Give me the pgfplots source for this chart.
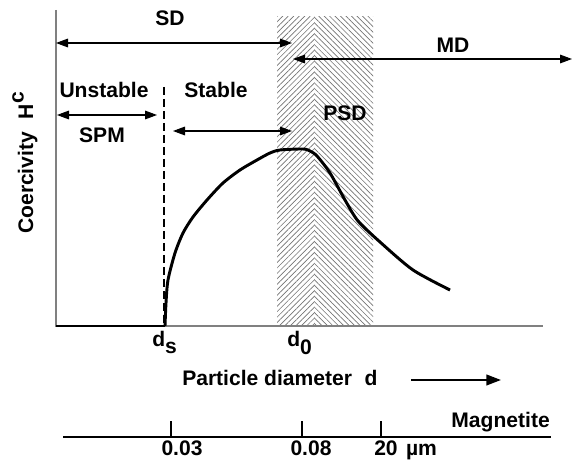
\documentclass[border=0pt]{standalone}
\usepackage{fontspec}
\setmainfont{Liberation Sans}
\usepackage{pgfplots}
\pgfplotsset{compat=1.18}
\usetikzlibrary{arrows.meta,patterns.meta}

% pixel grid of the reference: x = px, y = 463 - py
\tikzset{dbl/.style={black, line width=0.8pt, {Triangle[length=9pt,width=6.5pt]}-{Triangle[length=9pt,width=6.5pt]}}}

\begin{document}
\begin{tikzpicture}[font=\fontsize{15.8}{18}\selectfont\bfseries]
\begin{axis}[
  name=ax,
  width=433.5pt, height=347.25pt, scale only axis,
  xmin=0, xmax=578, ymin=0, ymax=463,
  axis lines=none, clip=false,
]
% PSD band, two hatch halves meeting in chevrons
\addplot[draw=none, pattern={Lines[angle=45,distance=2.9pt,line width=0.5pt]}, pattern color=black!55]
  coordinates {(277,137) (277,446) (314,446) (314,137)} -- cycle;
\addplot[draw=none, pattern={Lines[angle=-45,distance=2.9pt,line width=0.5pt]}, pattern color=black!55]
  coordinates {(314,137) (314,446) (373,446) (373,137)} -- cycle;

% axes
\draw[gray, line width=0.9pt] (axis cs:56,453) -- (axis cs:56,137) -- (axis cs:543,137);
\draw[black, line width=0.8pt, dash pattern=on 6pt off 3pt] (axis cs:164,376) -- (axis cs:164,137);

% coercivity curve
\addplot[black, line width=1.5pt] coordinates {(56,137) (165,137)};
\addplot[black, line width=2.2pt, line join=round, smooth, tension=0.45] coordinates {
  (165,137) (166,160) (168,183) (175,210) (183,230) (193,246) (207,263)
  (223,280) (240,293) (257,303) (270,310) (280,313) (303,314) (310,312)
  (317,307) (330,290) (345,263) (358,242) (380,221) (413,193) (450,173)};

% domain arrows
\draw[dbl] (axis cs:56,420) -- (axis cs:292,420);
\draw[dbl] (axis cs:293,404) -- (axis cs:572,404);
\draw[dbl] (axis cs:57,348) -- (axis cs:157,348);
\draw[dbl] (axis cs:173,332) -- (axis cs:292,332);

\node at (axis cs:170,445) {SD};
\node at (axis cs:453,418) {MD};
\node at (axis cs:104,373) {Unstable};
\node at (axis cs:102,328) {SPM};
\node at (axis cs:216,373) {Stable};
\node at (axis cs:345,350) {PSD};

% y label
\node[rotate=90, anchor=base] at (axis cs:33,300) {Coercivity\hspace{0.6em}H\raisebox{7pt}{c}};

% x labels
\node[anchor=base west, inner sep=0pt] at (axis cs:152,116) {d\raisebox{-5pt}{s}};
\node[anchor=base west, inner sep=0pt] at (axis cs:287,116) {d\raisebox{-6pt}{0}};
\node[anchor=base west, inner sep=0pt] at (axis cs:182,77) {Particle diameter\hspace{0.6em}d};
\draw[black, line width=1.5pt, -{Triangle[length=11pt,width=8pt]}] (axis cs:411,83) -- (axis cs:501,83);

% magnetite scale
\draw[black, line width=1.5pt] (axis cs:63,26) -- (axis cs:551,26);
\draw[black, line width=1.5pt] (axis cs:171,26) -- (axis cs:171,42);
\draw[black, line width=1.5pt] (axis cs:302,26) -- (axis cs:302,42);
\draw[black, line width=1.5pt] (axis cs:381,26) -- (axis cs:381,42);
\node[anchor=base east, inner sep=0pt] at (axis cs:550,35) {Magnetite};
\node[anchor=base, inner sep=0pt] at (axis cs:182,7) {0.03};
\node[anchor=base, inner sep=0pt] at (axis cs:311,7) {0.08};
\node[anchor=base west, inner sep=0pt] at (axis cs:374,7) {20\hspace{0.4em}µm};
\end{axis}
\pgfresetboundingbox
\path (ax.south west) rectangle (ax.north east);
\end{tikzpicture}
\end{document}
